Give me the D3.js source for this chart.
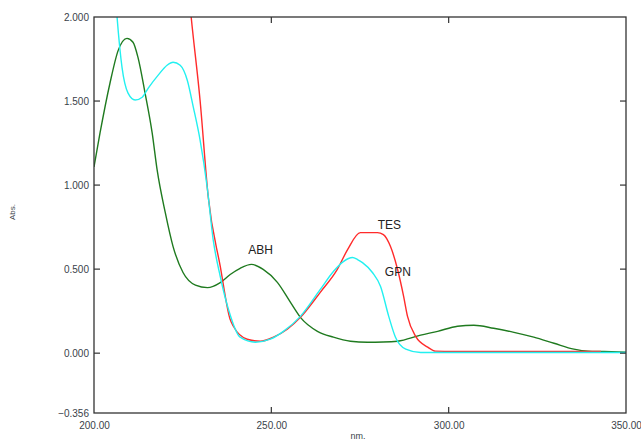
<!DOCTYPE html>
<html>
<head>
<meta charset="utf-8">
<script src="https://cdn.jsdelivr.net/npm/d3@7"></script>
<style>
	body { margin: 0; background: #fff; }
	text { font-family: "Liberation Sans", Arial, sans-serif; }
</style>
</head>
<body>
<svg id="chart"></svg>
<script>
// wavelength (nm), absorbance
var abh = [[200, 1.108], [201.7, 1.31], [204.5, 1.606], [206.8, 1.80], [209.3, 1.873], [211.0, 1.85],
	[212.4, 1.76], [214.4, 1.547], [216.4, 1.31], [217.8, 1.09], [220.1, 0.836], [222.3, 0.634],
	[225.1, 0.48], [228.6, 0.405], [232.0, 0.39], [235.6, 0.42], [238.4, 0.468], [241.2, 0.505],
	[244.4, 0.528], [247.7, 0.498], [251.7, 0.421], [255.4, 0.302], [258.2, 0.213], [263.0, 0.130],
	[267.5, 0.095], [272.3, 0.071], [277.1, 0.065], [281.5, 0.066], [285.6, 0.071], [292.1, 0.107],
	[296.9, 0.130], [302.5, 0.16], [307.1, 0.166], [312.7, 0.148], [318.4, 0.124], [324.0, 0.095],
	[329.7, 0.059], [335.3, 0.024], [339.3, 0.012], [343.8, 0.010], [350, 0.006]];

var tes = [[226.5, 2.2], [227.4, 2.0], [229.9, 1.506], [232.2, 0.931], [235.6, 0.516], [238.4, 0.2],
	[239.3, 0.16], [243.2, 0.083], [246.9, 0.071], [250.6, 0.095], [254.5, 0.142], [258.2, 0.213],
	[263.8, 0.362], [268.6, 0.498], [271.5, 0.616], [275.1, 0.717], [279.9, 0.717], [281.6, 0.705],
	[283.6, 0.634], [285.6, 0.498], [287.3, 0.338], [288.4, 0.219], [290.7, 0.10], [294.1, 0.036],
	[296.3, 0.012], [301.4, 0.010], [342.9, 0.010]];

var gpn = [[205.5, 2.3], [206.5, 2.0], [207.9, 1.70], [209.6, 1.547], [211.6, 1.506], [213.6, 1.523],
	[215.3, 1.577], [218.1, 1.654], [220.6, 1.713], [222.3, 1.731], [224.3, 1.713], [226.3, 1.624],
	[228.0, 1.464], [229.9, 1.269], [231.9, 0.99], [233.6, 0.676], [235.6, 0.456], [237.9, 0.261],
	[241.2, 0.095], [245.5, 0.065], [249.7, 0.083], [253.4, 0.13], [258.2, 0.219], [263.8, 0.379],
	[267.5, 0.486], [270.3, 0.545], [272.9, 0.569], [274.3, 0.557], [275.7, 0.539], [278.5, 0.48],
	[280.8, 0.397], [283.1, 0.219], [285.0, 0.095], [287.9, 0.024], [292.1, 0.004], [350, 0.004]];

var yTicks = [-0.356, 0, 0.5, 1.0, 1.5, 2.0];
var xTicks = [200, 250, 300, 350];

var series = [
	{name: "ABH", values: abh, color: "#1f7a1f", lx: 243.5, ly: 0.59},
	{name: "TES", values: tes, color: "#ff2b2b", lx: 280, ly: 0.74},
	{name: "GPN", values: gpn, color: "#22f0f0", lx: 282, ly: 0.46}
];

var margin = {top: 17, right: 15, bottom: 28, left: 94},
	width = 641 - margin.left - margin.right,
	height = 441 - margin.top - margin.bottom;

var x = d3.scaleLinear().domain([200, 350]).range([0, width]);
var y = d3.scaleLinear().domain([-0.356, 2.0]).range([height, 0]);

var svg = d3.select("#chart")
	.attr("width", 641)
	.attr("height", 441)
	.append("g")
	.attr("transform", "translate(" + margin.left + "," + margin.top + ")");

svg.append("clipPath").attr("id", "clip")
	.append("rect").attr("width", width).attr("height", height);

var line = d3.line()
	.x(function(d) { return x(d[0]); })
	.y(function(d) { return y(d[1]); })
	.curve(d3.curveMonotoneX);

svg.append("g").attr("clip-path", "url(#clip)")
	.selectAll(".curve")
	.data(series)
	.enter().append("path")
	.attr("class", "curve")
	.attr("fill", "none")
	.attr("stroke", function(d) { return d.color; })
	.attr("stroke-width", 1.4)
	.attr("d", function(d) { return line(d.values); });

// frame
svg.append("rect")
	.attr("width", width).attr("height", height)
	.attr("fill", "none").attr("stroke", "#333").attr("stroke-width", 1.3);

var tickCol = "#333";
var inner = yTicks.slice(1, -1);
var innerX = xTicks.slice(1, -1);

svg.append("g").attr("transform", "translate(0," + height + ")")
	.call(d3.axisBottom(x).tickValues(xTicks).tickFormat(d3.format(".2f")).tickSize(0).tickPadding(9))
	.call(function(g) { g.select(".domain").remove(); });
svg.append("g")
	.call(d3.axisLeft(y).tickValues(yTicks).tickFormat(d3.format(".3f")).tickSize(0).tickPadding(5))
	.call(function(g) { g.select(".domain").remove(); });

svg.selectAll(".tick text")
	.attr("fill", "#3a3f4a")
	.style("font-size", "10px");

// inward ticks
svg.selectAll(".ly").data(inner).enter().append("line")
	.attr("x1", 0).attr("x2", 6)
	.attr("y1", function(d) { return y(d); }).attr("y2", function(d) { return y(d); })
	.attr("stroke", tickCol).attr("stroke-width", 1.2);
svg.selectAll(".ry").data(inner).enter().append("line")
	.attr("x1", width - 6).attr("x2", width)
	.attr("y1", function(d) { return y(d); }).attr("y2", function(d) { return y(d); })
	.attr("stroke", tickCol).attr("stroke-width", 1.2);
svg.selectAll(".bx").data(innerX).enter().append("line")
	.attr("x1", function(d) { return x(d); }).attr("x2", function(d) { return x(d); })
	.attr("y1", height - 6).attr("y2", height)
	.attr("stroke", tickCol).attr("stroke-width", 1.2);
svg.selectAll(".tx").data(innerX).enter().append("line")
	.attr("x1", function(d) { return x(d); }).attr("x2", function(d) { return x(d); })
	.attr("y1", 0).attr("y2", 6)
	.attr("stroke", tickCol).attr("stroke-width", 1.2);

// series labels
svg.selectAll(".lab").data(series).enter().append("text")
	.attr("x", function(d) { return x(d.lx); })
	.attr("y", function(d) { return y(d.ly); })
	.attr("fill", "#222")
	.style("font-size", "12px")
	.text(function(d) { return d.name; });

// axis titles
svg.append("text")
	.attr("transform", "translate(" + (15 - margin.left) + "," + (212 - margin.top) + ") rotate(-90)")
	.attr("text-anchor", "middle")
	.attr("fill", "#3a3f4a")
	.style("font-size", "8px")
	.text("Abs.");
svg.append("text")
	.attr("x", 358 - margin.left)
	.attr("y", 439 - margin.top)
	.attr("text-anchor", "middle")
	.attr("fill", "#3a3f4a")
	.style("font-size", "9px")
	.text("nm.");
</script>
</body>
</html>
